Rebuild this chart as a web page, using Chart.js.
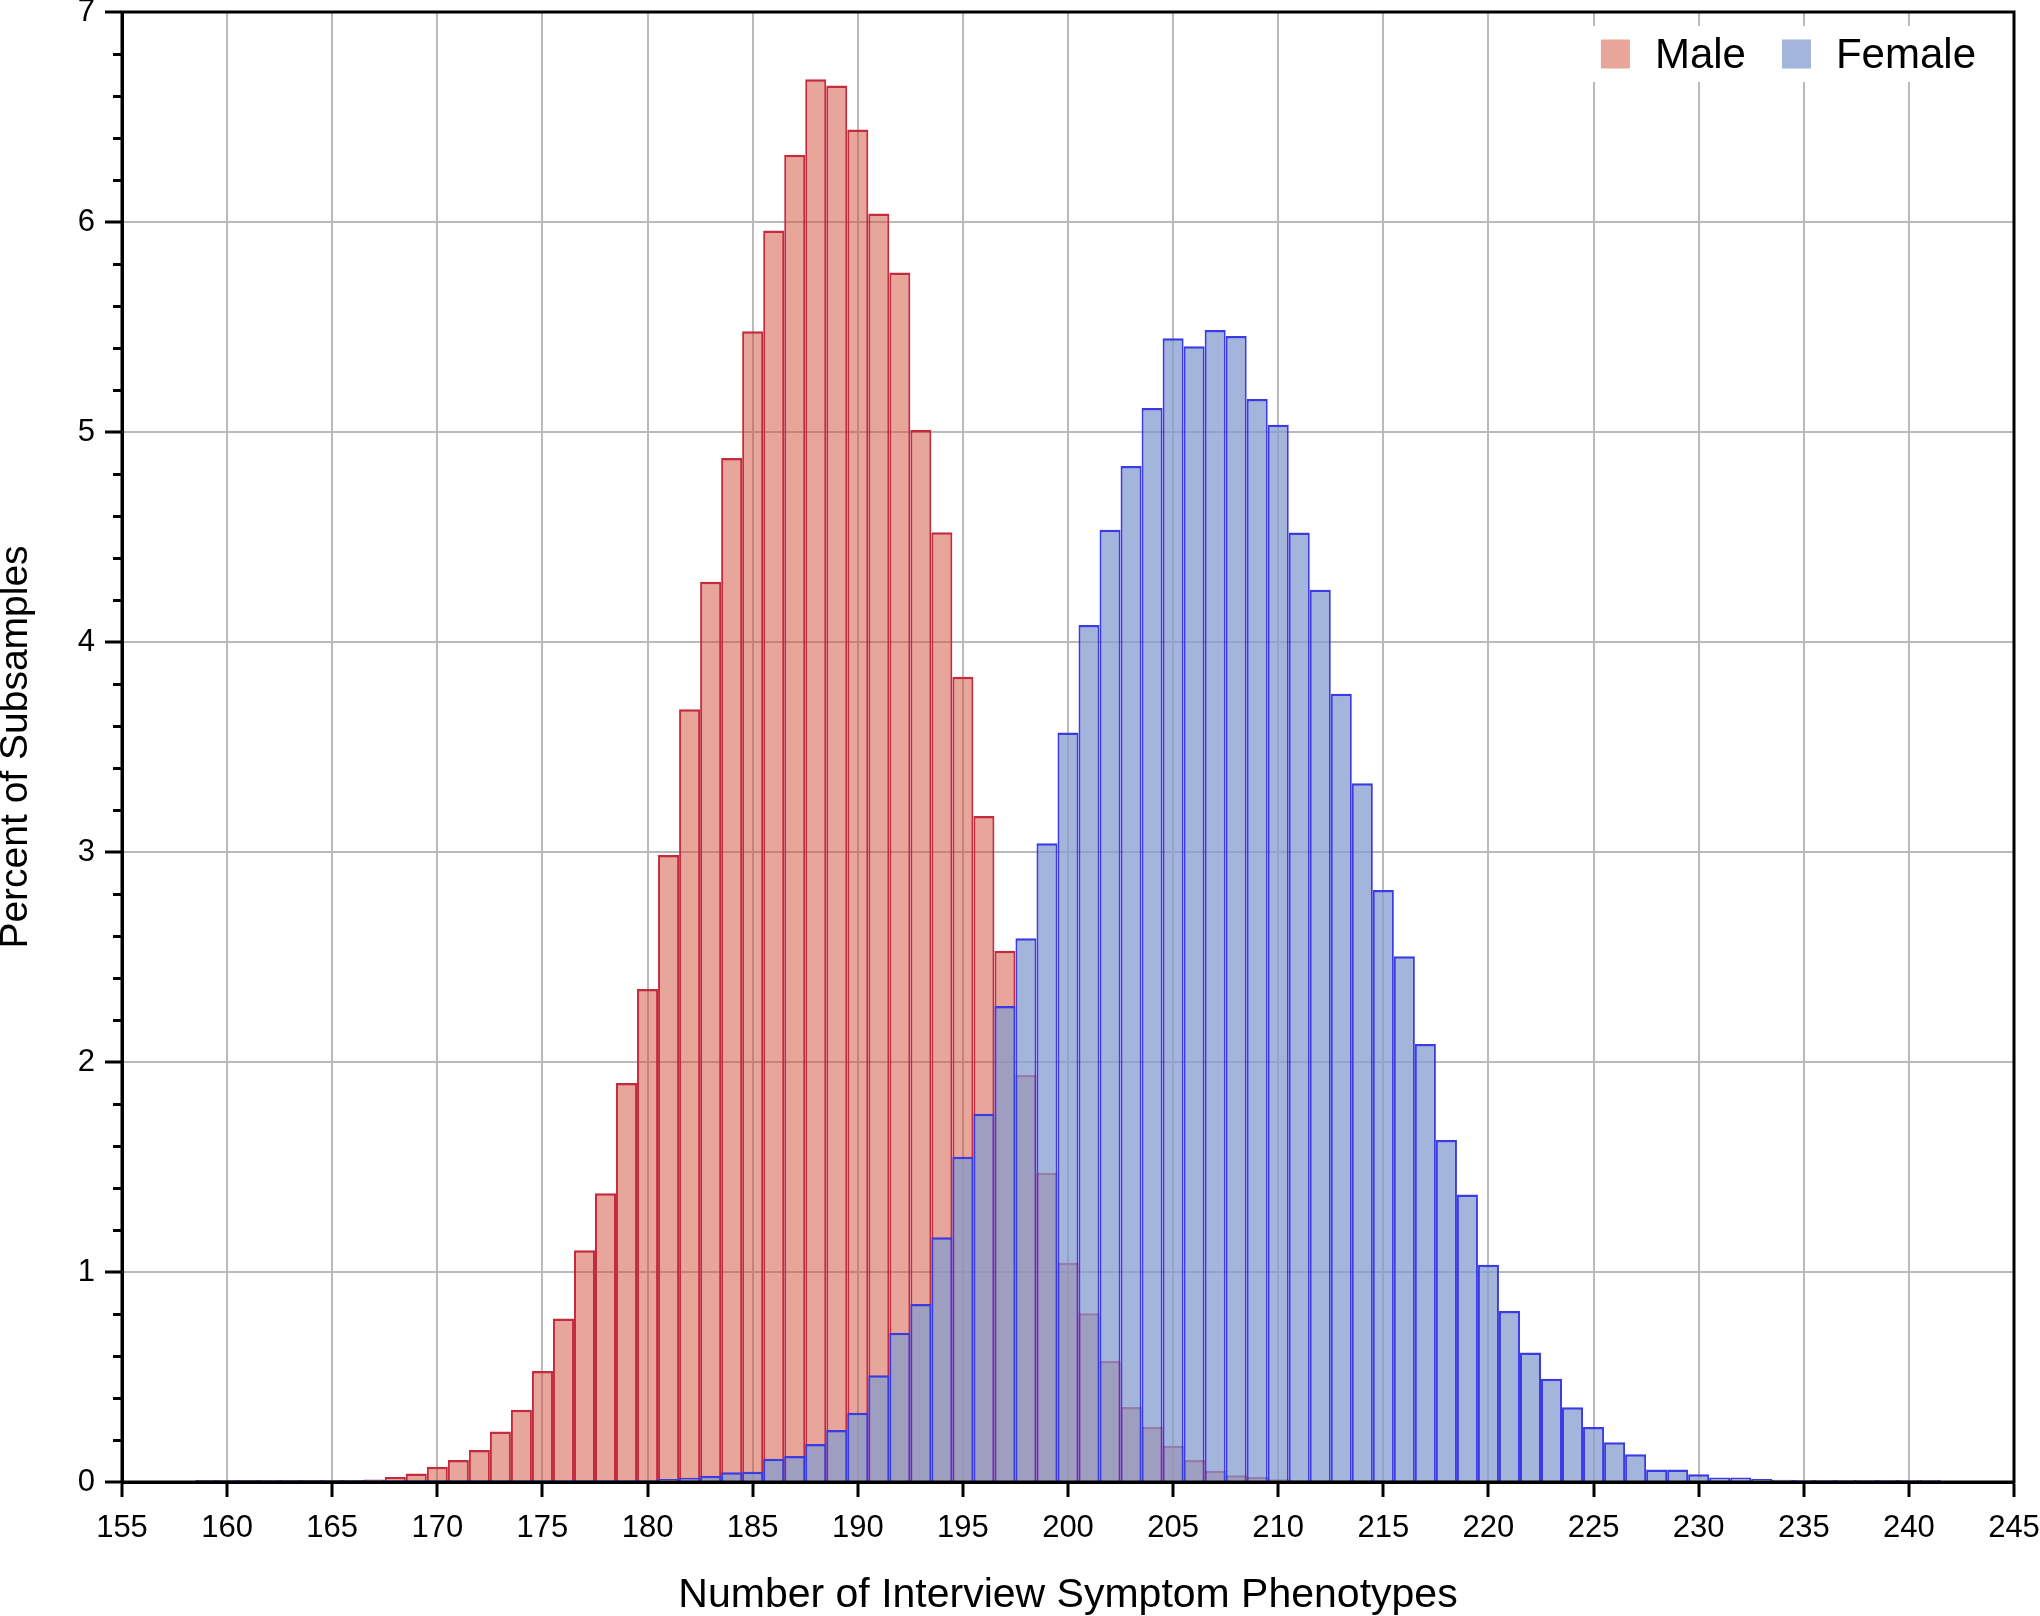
<!DOCTYPE html>
<html lang="en">
<head>
    <meta charset="UTF-8">
    <title>chart</title>
    <style>
        html, body { margin: 0; padding: 0; background: #fff; }
        #histChart { display: block; }
    </style>
</head>
<body>
<canvas id="histChart" width="2040" height="1616"></canvas>

<script src="https://cdn.jsdelivr.net/npm/chart.js"></script>
<script>
// bin centres (number of phenotypes), one bin per integer
var bins = [159, 160, 161, 162, 163, 164, 165, 166, 167, 168, 169, 170, 171, 172, 173, 174, 175, 176, 177, 178,
            179, 180, 181, 182, 183, 184, 185, 186, 187, 188, 189, 190, 191, 192, 193, 194, 195, 196, 197, 198,
            199, 200, 201, 202, 203, 204, 205, 206, 207, 208, 209, 210, 211, 212, 213, 214, 215, 216, 217, 218,
            219, 220, 221, 222, 223, 224, 225, 226, 227, 228, 229, 230, 231, 232, 233, 234, 235, 236, 237, 238,
            239, 240, 241];

// percent of subsamples
var male = [0.001, 0.001, 0.001, 0.002, 0.002, 0.003, 0.004, 0.007, 0.012, 0.024, 0.040, 0.073, 0.105, 0.152, 0.240, 0.344, 0.529, 0.779, 1.103, 1.375,
            1.900, 2.348, 2.986, 3.680, 4.287, 4.876, 5.480, 5.960, 6.320, 6.680, 6.650, 6.440, 6.040, 5.760, 5.010, 4.523, 3.835, 3.172, 2.530, 1.938,
            1.473, 1.044, 0.803, 0.576, 0.357, 0.263, 0.173, 0.105, 0.054, 0.032, 0.024, 0.013, 0.008, 0.005, 0.004, 0.003, 0.002, 0.002, 0.001, 0.001,
            null, null, null, null, null, null, null, null, null, null, null, null, null, null, null, null, null, null, null, null,
            null, null, null];

var female = [0.002, 0.001, 0.002, 0.002, 0.002, 0.002, 0.002, 0.002, 0.002, 0.002, 0.002, 0.002, 0.002, 0.002, 0.002, 0.003, 0.003, 0.003, 0.004, 0.005,
              0.007, 0.010, 0.014, 0.020, 0.030, 0.046, 0.049, 0.111, 0.124, 0.181, 0.248, 0.330, 0.508, 0.711, 0.848, 1.165, 1.549, 1.753, 2.267, 2.589,
              3.042, 3.569, 4.081, 4.535, 4.838, 5.114, 5.446, 5.408, 5.486, 5.457, 5.157, 5.035, 4.522, 4.249, 3.754, 3.327, 2.819, 2.503, 2.086, 1.629,
              1.369, 1.035, 0.814, 0.617, 0.492, 0.356, 0.262, 0.189, 0.132, 0.059, 0.059, 0.037, 0.022, 0.022, 0.014, 0.011, 0.003, 0.006, 0.006, 0.003,
              0.003, 0.003, 0.004];

var seriesLabels = ['Male', 'Female'];

function toPoints(values) {
    var pts = [];
    for (var i = 0; i < bins.length; i++) {
        if (values[i] !== null) pts.push({x: bins[i], y: values[i]});
    }
    return pts;
}

var maleFill = 'rgba(209, 77, 53, 0.5)';
var femaleFill = 'rgba(132, 156, 206, 0.75)';

// minor ticks on the y axis + closed frame
var framePlugin = {
    id: 'frame',
    afterDraw: function(chart) {
        var ctx = chart.ctx;
        var a = chart.chartArea;
        var y = chart.scales.y;
        ctx.save();
        ctx.strokeStyle = '#000';
        ctx.lineWidth = 3;
        for (var v = 0.2; v < 7; v += 0.2) {
            if (Math.abs(v - Math.round(v)) < 0.01) continue;
            var py = Math.round(y.getPixelForValue(v)) + 0.5;
            ctx.beginPath();
            ctx.moveTo(a.left - 9, py);
            ctx.lineTo(a.left, py);
            ctx.stroke();
        }
        ctx.strokeRect(a.left, a.top, a.right - a.left, a.bottom - a.top);
        ctx.restore();
    }
};

// legend inside the plot, top right
var legendPlugin = {
    id: 'insideLegend',
    afterDraw: function(chart) {
        var ctx = chart.ctx;
        var a = chart.chartArea;
        var ds = chart.data.datasets;
        ctx.save();
        ctx.font = '42px "Liberation Sans", Arial, sans-serif';
        var box = 29, gap = 25, itemGap = 36;
        var total = 0;
        for (var i = 0; i < ds.length; i++) {
            total += box + gap + ctx.measureText(ds[i].label).width;
            if (i > 0) total += itemGap;
        }
        var x = a.right - 38 - total;
        var cy = a.top + 42;
        ctx.fillStyle = '#fff';
        ctx.fillRect(x - 14, cy - 28, total + 28, 56);
        ctx.textBaseline = 'middle';
        for (var j = 0; j < ds.length; j++) {
            ctx.fillStyle = ds[j].backgroundColor;
            ctx.fillRect(x, cy - box / 2, box, box);
            x += box + gap;
            ctx.fillStyle = '#000';
            ctx.fillText(ds[j].label, x, cy + 2);
            x += ctx.measureText(ds[j].label).width + itemGap;
        }
        ctx.restore();
    }
};

var ctx = document.getElementById('histChart');
var histChart = new Chart(ctx.getContext('2d'), {
    type: 'bar',
    data: {
        datasets: [
            {
                label: seriesLabels[0],
                data: toPoints(male),
                backgroundColor: maleFill,
                borderColor: '#c52b3e',
                order: 1
            },
            {
                label: seriesLabels[1],
                data: toPoints(female),
                backgroundColor: femaleFill,
                borderColor: '#3b3be4',
                order: 0
            }
        ]
    },
    options: {
        responsive: false,
        animation: false,
        devicePixelRatio: 1,
        layout: { padding: { left: 0, right: 26, top: 12, bottom: 0 } },
        datasets: {
            bar: {
                grouped: false,
                barPercentage: 1,
                categoryPercentage: 1,
                borderWidth: { top: 2.5, left: 2, right: 2, bottom: 0 },
                borderSkipped: 'start',
                minBarLength: 2,
                inflateAmount: 0
            }
        },
        scales: {
            x: {
                type: 'linear',
                min: 155,
                max: 245,
                offset: false,
                grid: {
                    offset: false,
                    color: '#bababa',
                    lineWidth: 2,
                    tickColor: '#000',
                    tickWidth: 3,
                    tickLength: 15
                },
                border: { color: '#000', width: 3 },
                ticks: {
                    stepSize: 5,
                    padding: 13,
                    color: '#000',
                    maxRotation: 0,
                    font: { size: 31, family: '"Liberation Sans", Arial, sans-serif' }
                },
                title: {
                    display: true,
                    text: 'Number of Interview Symptom Phenotypes',
                    color: '#000',
                    padding: { top: 0, bottom: 0 },
                    font: { size: 41, lineHeight: 1.0, family: '"Liberation Sans", Arial, sans-serif' }
                },
                afterFit: function(scale) {
                    scale.height = 134;
                    scale.paddingLeft = 0;
                    scale.paddingRight = 0;
                }
            },
            y: {
                min: 0,
                max: 7,
                grid: {
                    color: '#bababa',
                    lineWidth: 2,
                    tickColor: '#000',
                    tickWidth: 3,
                    tickLength: 17
                },
                border: { color: '#000', width: 3 },
                ticks: {
                    stepSize: 1,
                    padding: 10,
                    color: '#000',
                    font: { size: 31, family: '"Liberation Sans", Arial, sans-serif' }
                },
                title: {
                    display: true,
                    text: 'Percent of Subsamples',
                    color: '#000',
                    padding: { top: 0, bottom: 0 },
                    font: { size: 39, lineHeight: 0.82, family: '"Liberation Sans", Arial, sans-serif' }
                },
                afterFit: function(scale) {
                    scale.width = 122;
                    scale.paddingTop = 0;
                    scale.paddingBottom = 0;
                }
            }
        },
        plugins: {
            legend: { display: false },
            title: { display: false },
            tooltip: { enabled: false }
        }
    },
    plugins: [framePlugin, legendPlugin]
});
</script>
</body>
</html>
